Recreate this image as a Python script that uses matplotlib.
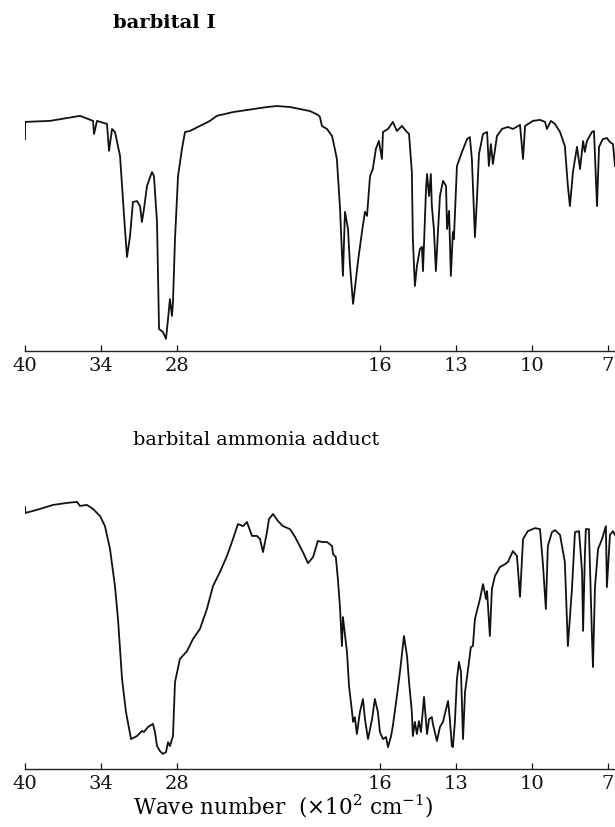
import matplotlib
matplotlib.use('Agg')
import matplotlib.pyplot as plt
import numpy as np

plt.rcParams['font.family'] = 'DejaVu Serif'
plt.rcParams['mathtext.fontset'] = 'dejavuserif'

# wave number (x10^2 cm-1) and transmittance
wn_top = [40.00, 39.99, 38.03, 35.66, 34.63, 34.55, 34.32, 33.53, 33.37, 33.13, 32.90, 32.50,
          32.11, 31.95, 31.71, 31.48, 31.16, 30.92, 30.77, 30.61, 30.37, 29.98, 29.82, 29.58,
          29.42, 29.11, 28.87, 28.71, 28.56, 28.40, 28.32, 28.16, 27.92, 27.61, 27.37, 26.98,
          26.19, 25.40, 24.85, 23.58, 22.00, 20.90, 20.11, 19.54, 19.15, 18.75, 18.44, 18.36,
          18.28, 18.08, 17.88, 17.77, 17.69, 17.57, 17.49, 17.45, 17.37, 17.25, 17.17, 17.05,
          16.98, 16.86, 16.70, 16.58, 16.50, 16.38, 16.27, 16.15, 16.03, 15.91, 15.87, 15.67,
          15.48, 15.32, 15.12, 14.96, 14.84, 14.73, 14.69, 14.61, 14.53, 14.41, 14.33, 14.29,
          14.17, 14.13, 14.05, 13.98, 13.94, 13.86, 13.78, 13.70, 13.62, 13.50, 13.38, 13.34,
          13.26, 13.19, 13.11, 13.07, 12.95, 12.75, 12.55, 12.44, 12.36, 12.24, 12.16, 12.08,
          11.92, 11.76, 11.69, 11.61, 11.53, 11.37, 11.17, 10.94, 10.74, 10.46, 10.34, 10.26,
          9.95, 9.67, 9.47, 9.40, 9.24, 9.08, 8.88, 8.69, 8.57, 8.49, 8.37, 8.21, 8.09, 7.97,
          7.90, 7.82, 7.62, 7.54, 7.42, 7.34, 7.19, 7.03, 6.91, 6.79, 6.71]
t_top = [84.1, 90.9, 91.3, 93.3, 91.3, 86.1, 91.3, 90.1, 79.4, 88.1, 86.9, 77.4,
         48.4, 37.3, 45.6, 59.1, 59.5, 57.5, 51.2, 56.3, 65.5, 71.0, 69.4, 51.2,
         8.7, 7.5, 4.8, 12.7, 20.6, 13.9, 19.4, 44.4, 69.4, 80.2, 86.9, 87.3,
         89.3, 91.3, 93.3, 94.8, 96.0, 96.8, 97.2, 96.8, 96.0, 95.2, 93.7, 92.9,
         89.3, 88.1, 85.3, 80.2, 76.2, 57.5, 39.3, 29.8, 55.2, 48.4, 33.7, 18.7,
         24.6, 35.3, 47.2, 55.2, 53.6, 69.4, 72.2, 80.2, 83.3, 76.2, 86.9, 88.1,
         90.9, 87.3, 89.3, 87.3, 86.1, 71.0, 44.4, 25.8, 33.7, 40.5, 41.3, 31.7,
         64.3, 70.2, 61.5, 70.2, 57.5, 48.4, 31.7, 47.2, 61.5, 67.5, 65.5, 48.4,
         55.6, 29.8, 47.2, 44.4, 73.4, 79.0, 84.1, 84.9, 76.2, 45.2, 60.3, 78.2,
         86.1, 86.9, 73.4, 82.1, 74.2, 85.3, 88.1, 88.9, 88.1, 89.7, 76.2, 89.3,
         91.3, 91.7, 90.9, 88.1, 91.3, 90.1, 86.9, 81.3, 65.5, 57.5, 71.0, 81.0, 72.2, 83.3,
         79.0, 83.3, 86.9, 87.3, 57.5, 81.0, 84.1, 84.5, 82.9, 82.1, 73.4]

wn_bot = [40.00, 39.97, 38.82, 37.79, 36.69, 35.90, 35.66, 35.11, 34.63, 34.08, 33.69, 33.29,
          32.90, 32.66, 32.34, 32.03, 31.63, 31.16, 30.77, 30.61, 30.29, 29.90, 29.74, 29.58,
          29.34, 29.11, 28.87, 28.71, 28.56, 28.32, 28.16, 27.77, 27.21, 26.74, 26.19, 25.64,
          25.16, 24.61, 24.06, 23.58, 23.19, 22.79, 22.48, 22.08, 21.69, 21.45, 21.21, 20.90,
          20.74, 20.42, 20.03, 19.82, 19.54, 19.34, 19.03, 18.83, 18.63, 18.44, 18.28, 18.08,
          17.88, 17.84, 17.73, 17.65, 17.57, 17.49, 17.45, 17.29, 17.21, 17.09, 17.05, 16.98,
          16.90, 16.78, 16.66, 16.58, 16.46, 16.30, 16.19, 16.07, 15.99, 15.87, 15.75, 15.67,
          15.55, 15.48, 15.32, 15.20, 15.04, 14.92, 14.84, 14.73, 14.69, 14.61, 14.53, 14.45,
          14.37, 14.25, 14.13, 14.05, 13.94, 13.90, 13.74, 13.62, 13.50, 13.38, 13.30, 13.23,
          13.15, 13.11, 13.03, 12.95, 12.87, 12.79, 12.71, 12.63, 12.51, 12.40, 12.32, 12.24,
          12.04, 11.92, 11.80, 11.76, 11.65, 11.57, 11.45, 11.25, 11.05, 10.94, 10.74, 10.58,
          10.46, 10.34, 10.15, 9.87, 9.67, 9.55, 9.44, 9.36, 9.20, 9.08, 8.88, 8.69, 8.57,
          8.41, 8.29, 8.13, 8.01, 7.97, 7.90, 7.86, 7.74, 7.62, 7.58, 7.50, 7.38, 7.22,
          7.07, 7.03, 6.91, 6.79, 6.71]
t_bot = [104.0, 101.6, 103.2, 104.8, 105.6, 106.0, 104.4, 104.8, 103.2, 100.4, 96.4, 87.3,
         72.6, 59.5, 35.7, 22.6, 11.9, 13.1, 15.1, 14.7, 16.7, 17.9, 14.7, 9.1,
         7.1, 6.0, 6.7, 10.7, 9.1, 13.1, 34.5, 43.7, 46.8, 51.6, 55.6, 63.5,
         72.6, 78.2, 84.5, 91.3, 97.2, 96.4, 98.0, 92.5, 92.5, 91.3, 86.1, 94.0,
         99.2, 101.2, 98.4, 96.4, 95.2, 92.1, 86.1, 81.7, 84.1, 90.5, 90.1, 90.1,
         88.5, 85.3, 84.1, 75.4, 64.7, 48.8, 60.3, 46.4, 32.9, 22.6, 18.7, 20.6,
         13.9, 22.6, 27.8, 19.8, 11.9, 19.8, 27.8, 22.6, 14.7, 11.9, 12.7, 8.7,
         13.1, 17.1, 29.0, 38.5, 52.8, 44.8, 34.5, 22.6, 13.1, 18.7, 13.9, 19.0,
         14.7, 28.6, 13.9, 19.8, 20.6, 17.9, 11.1, 16.7, 18.7, 23.8, 27.0, 19.8,
         9.1, 8.7, 18.7, 35.7, 42.5, 38.5, 11.9, 30.6, 39.7, 48.4, 48.8, 59.5,
         67.5, 73.4, 67.5, 70.6, 52.8, 71.4, 76.6, 80.2, 81.3, 82.1, 86.5, 84.5,
         68.3, 91.3, 94.4, 95.6, 95.2, 80.6, 63.5, 88.5, 94.0, 94.8, 92.9, 82.1, 48.8,
         71.4, 94.0, 94.4, 78.2, 54.8, 84.5, 95.2, 95.2, 52.8, 40.5, 72.2, 87.3, 91.3,
         96.4, 72.2, 92.9, 94.4, 92.9]

tick_vals = [40, 34, 28, 16, 13, 10, 7]
tick_labels = ['40', '34', '28', '16', '13', '10', '7']


# chart paper: 2000-700 cm-1 is drawn at twice the scale of 4000-2000
def fwd(x):
    x = np.asarray(x, dtype=float)
    return np.where(x >= 20, x, 2 * x - 20)


def inv(y):
    y = np.asarray(y, dtype=float)
    return np.where(y >= 20, y, (y + 20) / 2)


fig = plt.figure(figsize=(6.15, 8.28), dpi=100)
ax_top = fig.add_axes([0.0407, 0.5749, 0.9593, 0.3348])
ax_bot = fig.add_axes([0.0407, 0.0700, 0.9593, 0.3348])

for ax, wn, t in [(ax_top, wn_top, t_top), (ax_bot, wn_bot, t_bot)]:
    ax.set_xscale('function', functions=(fwd, inv))
    ax.plot(wn, t, color='#111111', linewidth=1.3, solid_joinstyle='round')
    ax.set_xlim(40, 6.71)
    ax.set_ylim(0, 110)
    for side in ['top', 'left', 'right']:
        ax.spines[side].set_visible(False)
    ax.spines['bottom'].set_linewidth(1.0)
    ax.spines['bottom'].set_color('#222222')
    ax.set_yticks([])
    ax.set_xticks(tick_vals)
    ax.set_xticklabels(tick_labels)
    ax.minorticks_off()
    ax.tick_params(axis='x', direction='in', length=4, width=0.9, pad=3.5,
                   labelsize=14, colors='#111111')
    ax.patch.set_visible(False)

fig.text(113 / 615, 1 - 23 / 828, 'barbital I', fontsize=14, fontweight='bold',
         ha='left', va='center')
fig.text(133 / 615, 1 - 440 / 828, 'barbital ammonia adduct', fontsize=13.8,
         ha='left', va='center')
fig.text(283 / 615, 1 - 806 / 828, r'Wave number  ($\times$10$^{2}$ cm$^{-1}$)',
         fontsize=15.5, ha='center', va='center')

plt.savefig('out.png', dpi=100)
plt.close()
